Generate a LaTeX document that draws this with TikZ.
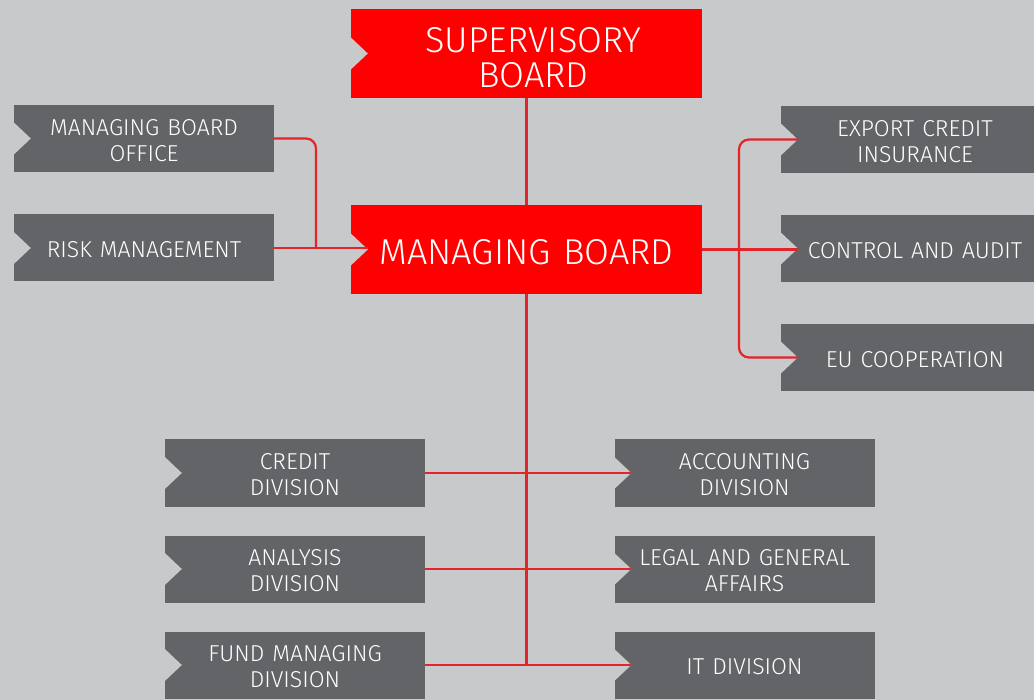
\documentclass[tikz,border=0pt]{standalone}
\usepackage{fontspec}
\setmainfont{Fira Sans}[UprightFont={* Light}, WordSpace=1.25]
\definecolor{bg}{HTML}{C8C9CB}
\definecolor{boardred}{HTML}{FF0000}
\definecolor{unitgray}{HTML}{636468}
\definecolor{linkred}{HTML}{E3242B}
% cut the arrow-shaped notch out of the left side of a box
\newcommand\notchcut[1]{%
  \fill[bg] ([xshift=-1pt,yshift=17pt]#1.west) -- ([xshift=17pt]#1.west)
    -- ([xshift=-1pt,yshift=-17pt]#1.west) -- cycle;}
\begin{document}
\begin{tikzpicture}[x=1pt,y=-1pt,
  unit/.style={fill=unitgray, minimum width=260pt, minimum height=67pt, inner sep=0pt,
    label={[unittext]center:#1}},
  unittext/.style={text=white, align=center, inner sep=0pt, yshift=-2pt,
    font=\fontsize{23}{26}\selectfont},
  board/.style={fill=boardred, minimum width=351pt, minimum height=89pt, inner sep=0pt},
  boardtext/.style={text=white, align=center, inner sep=0pt,
    font=\fontsize{36}{35}\selectfont},
  link/.style={draw=linkred, line width=2.2pt, rounded corners=10pt}]
\fill[bg] (0,0) rectangle (1034,700);
\useasboundingbox (0,0) rectangle (1034,700);

% boards
\node[board, label={[boardtext, xshift=7pt, yshift=-4.5pt]center:SUPERVISORY\\BOARD}]
  (sup) at (526.5,53.5) {};
\node[board, label={[boardtext, yshift=-3pt]center:MANAGING BOARD}]
  (mb) at (526.5,249.5) {};

% staff units left
\node[unit={MANAGING BOARD\\OFFICE}] (mbo) at (144,138.5) {};
\node[unit={RISK MANAGEMENT}] (risk) at (144,248) {};

% staff units right (boxes run off the right edge)
\node[unit={EXPORT CREDIT\\INSURANCE}, minimum width=268pt] (eci) at (915,139.5) {};
\node[unit={CONTROL AND AUDIT}, minimum width=268pt] (ca) at (915,248.5) {};
\node[unit={EU COOPERATION}, minimum width=268pt] (eu) at (915,357.5) {};

% divisions
\node[unit={CREDIT\\DIVISION}] (credit) at (295,473) {};
\node[unit={ANALYSIS\\DIVISION}] (analysis) at (295,569) {};
\node[unit={FUND MANAGING\\DIVISION}] (fund) at (295,665) {};
\node[unit={ACCOUNTING\\DIVISION}] (acc) at (744.5,473) {};
\node[unit={LEGAL AND GENERAL\\AFFAIRS}] (legal) at (744.5,569) {};
\node[unit={IT DIVISION}] (it) at (744.5,665) {};

\foreach \n in {sup,mb,mbo,risk,eci,ca,eu,credit,analysis,fund,acc,legal,it}
  \notchcut{\n};

% notch tips as connector ends
\foreach \n in {mb,eci,ca,eu,acc,legal,it}
  \coordinate (\n tip) at ([xshift=17pt]\n.west);
\coordinate (lj) at (316,248);
\coordinate (rj) at (739,300);

% connectors
\draw[link] (sup.south) -- (mb.north);
\draw[link] (mbo.east) -| (lj);
\draw[link] (risk.east) -- (risk.east -| mbtip);
\draw[link] (mb.east) -- (mb.east -| catip);
\draw[link] (ecitip) -| (rj) |- (eutip);
\draw[link] (mb.south) -- (mb.south |- fund.east);
\draw[link] (credit.east) -- (acctip);
\draw[link] (analysis.east) -- (legaltip);
\draw[link] (fund.east) -- (ittip);
\end{tikzpicture}
\end{document}
